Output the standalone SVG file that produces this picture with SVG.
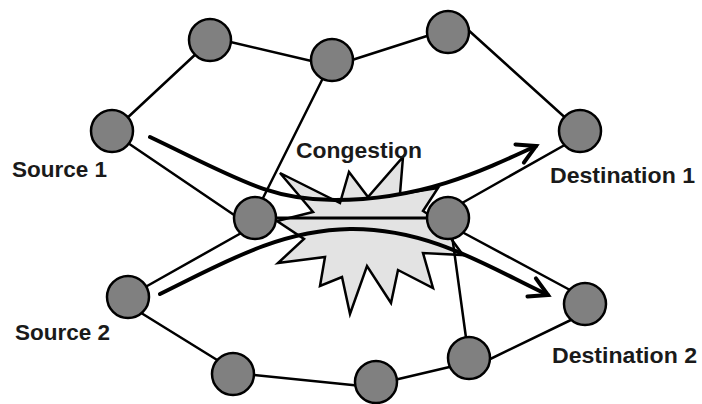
<svg xmlns="http://www.w3.org/2000/svg" width="702" height="404" viewBox="0 0 702 404">
  <style>
    .link { stroke: #000; stroke-width: 2.5; fill: none; stroke-linecap: round; }
    .trunk { stroke: #000; stroke-width: 3.2; fill: none; }
    .flow { stroke: #000; stroke-width: 4; fill: none; stroke-linecap: round; }
    .node circle { fill: #808080; stroke: #000; stroke-width: 2.5; }
    .label { font-family: "Liberation Sans", Arial, sans-serif; font-weight: bold; font-size: 22px; fill: #1a1a1a; }
  </style>
  <defs>
    <marker id="chevron" markerUnits="userSpaceOnUse" viewBox="-24 -14 30 28" refX="0" refY="0" markerWidth="30" markerHeight="28" orient="auto" overflow="visible">
      <path d="M-18,-10 L0,0 L-18,10" fill="none" stroke="#000" stroke-width="4" stroke-linecap="round" stroke-linejoin="miter"/>
    </marker>
  </defs>

  <rect width="702" height="404" fill="#fff"/>

  <!-- congestion burst -->
  <g id="burst">
    <polygon fill="#e3e3e3" stroke="#000" stroke-width="2.5" stroke-linejoin="miter"
      points="280,173 340,203 349,172 368,197 403,157 400,194 438,188 423,211 440,222 452,240 463,255 423,253 433,288 398,270 391,303 367,266 350,314 342,277 320,286 325,257 278,263 304,239 277,221 313,212"/>
  </g>

  <!-- connectors -->
  <g id="connectors">
    <line class="link" x1="125" y1="120" x2="198" y2="52"/>
    <line class="link" x1="222" y1="40" x2="320" y2="63"/>
    <line class="link" x1="352" y1="60" x2="430" y2="35"/>
    <line class="link" x1="466" y1="28" x2="570" y2="122"/>
    <line class="link" x1="326" y1="72" x2="262" y2="200"/>
    <line class="link" x1="125" y1="141" x2="240" y2="219"/>
    <line class="link" x1="140" y1="290" x2="243" y2="232"/>
    <line class="link" x1="138" y1="311" x2="222" y2="363"/>
    <line class="link" x1="245" y1="374" x2="362" y2="386"/>
    <line class="link" x1="390" y1="381" x2="458" y2="365"/>
    <line class="link" x1="480" y1="364" x2="575" y2="318"/>
    <line class="link" x1="451" y1="228" x2="467" y2="345"/>
    <line class="link" x1="455" y1="207" x2="570" y2="142"/>
    <line class="link" x1="462" y1="232" x2="570" y2="290"/>
    <line class="trunk" x1="255" y1="218" x2="448" y2="218"/>
    <!-- traffic flows -->
    <path class="flow" d="M150,137 C240,180 270,200 335,200 C420,200 480,172 536,146" marker-end="url(#chevron)"/>
    <path class="flow" d="M160,294 C225,262 280,230 350,229 C430,228 490,268 548,295" marker-end="url(#chevron)"/>
  </g>

  <!-- nodes -->
  <g id="source1" class="node"><circle cx="112" cy="131" r="21"/></g>
  <g id="n-a" class="node"><circle cx="210" cy="40" r="21"/></g>
  <g id="n-b" class="node"><circle cx="332" cy="60" r="21"/></g>
  <g id="n-c" class="node"><circle cx="448" cy="32" r="21"/></g>
  <g id="destination1" class="node"><circle cx="580" cy="131" r="21"/></g>
  <g id="n-m1" class="node"><circle cx="255" cy="218" r="21"/></g>
  <g id="n-m2" class="node"><circle cx="448" cy="218" r="21"/></g>
  <g id="source2" class="node"><circle cx="128" cy="297" r="21"/></g>
  <g id="n-d" class="node"><circle cx="233" cy="374" r="21"/></g>
  <g id="n-e" class="node"><circle cx="376" cy="382" r="21"/></g>
  <g id="n-f" class="node"><circle cx="469" cy="358" r="21"/></g>
  <g id="destination2" class="node"><circle cx="585" cy="304" r="21"/></g>

  <!-- labels -->
  <g id="labels">
    <text class="label" x="296" y="158" textLength="126" lengthAdjust="spacingAndGlyphs">Congestion</text>
    <text class="label" x="12" y="177" textLength="95" lengthAdjust="spacingAndGlyphs">Source 1</text>
    <text class="label" x="15" y="340" textLength="95" lengthAdjust="spacingAndGlyphs">Source 2</text>
    <text class="label" x="550" y="183" textLength="145" lengthAdjust="spacingAndGlyphs">Destination 1</text>
    <text class="label" x="552" y="363" textLength="145" lengthAdjust="spacingAndGlyphs">Destination 2</text>
  </g>
</svg>
